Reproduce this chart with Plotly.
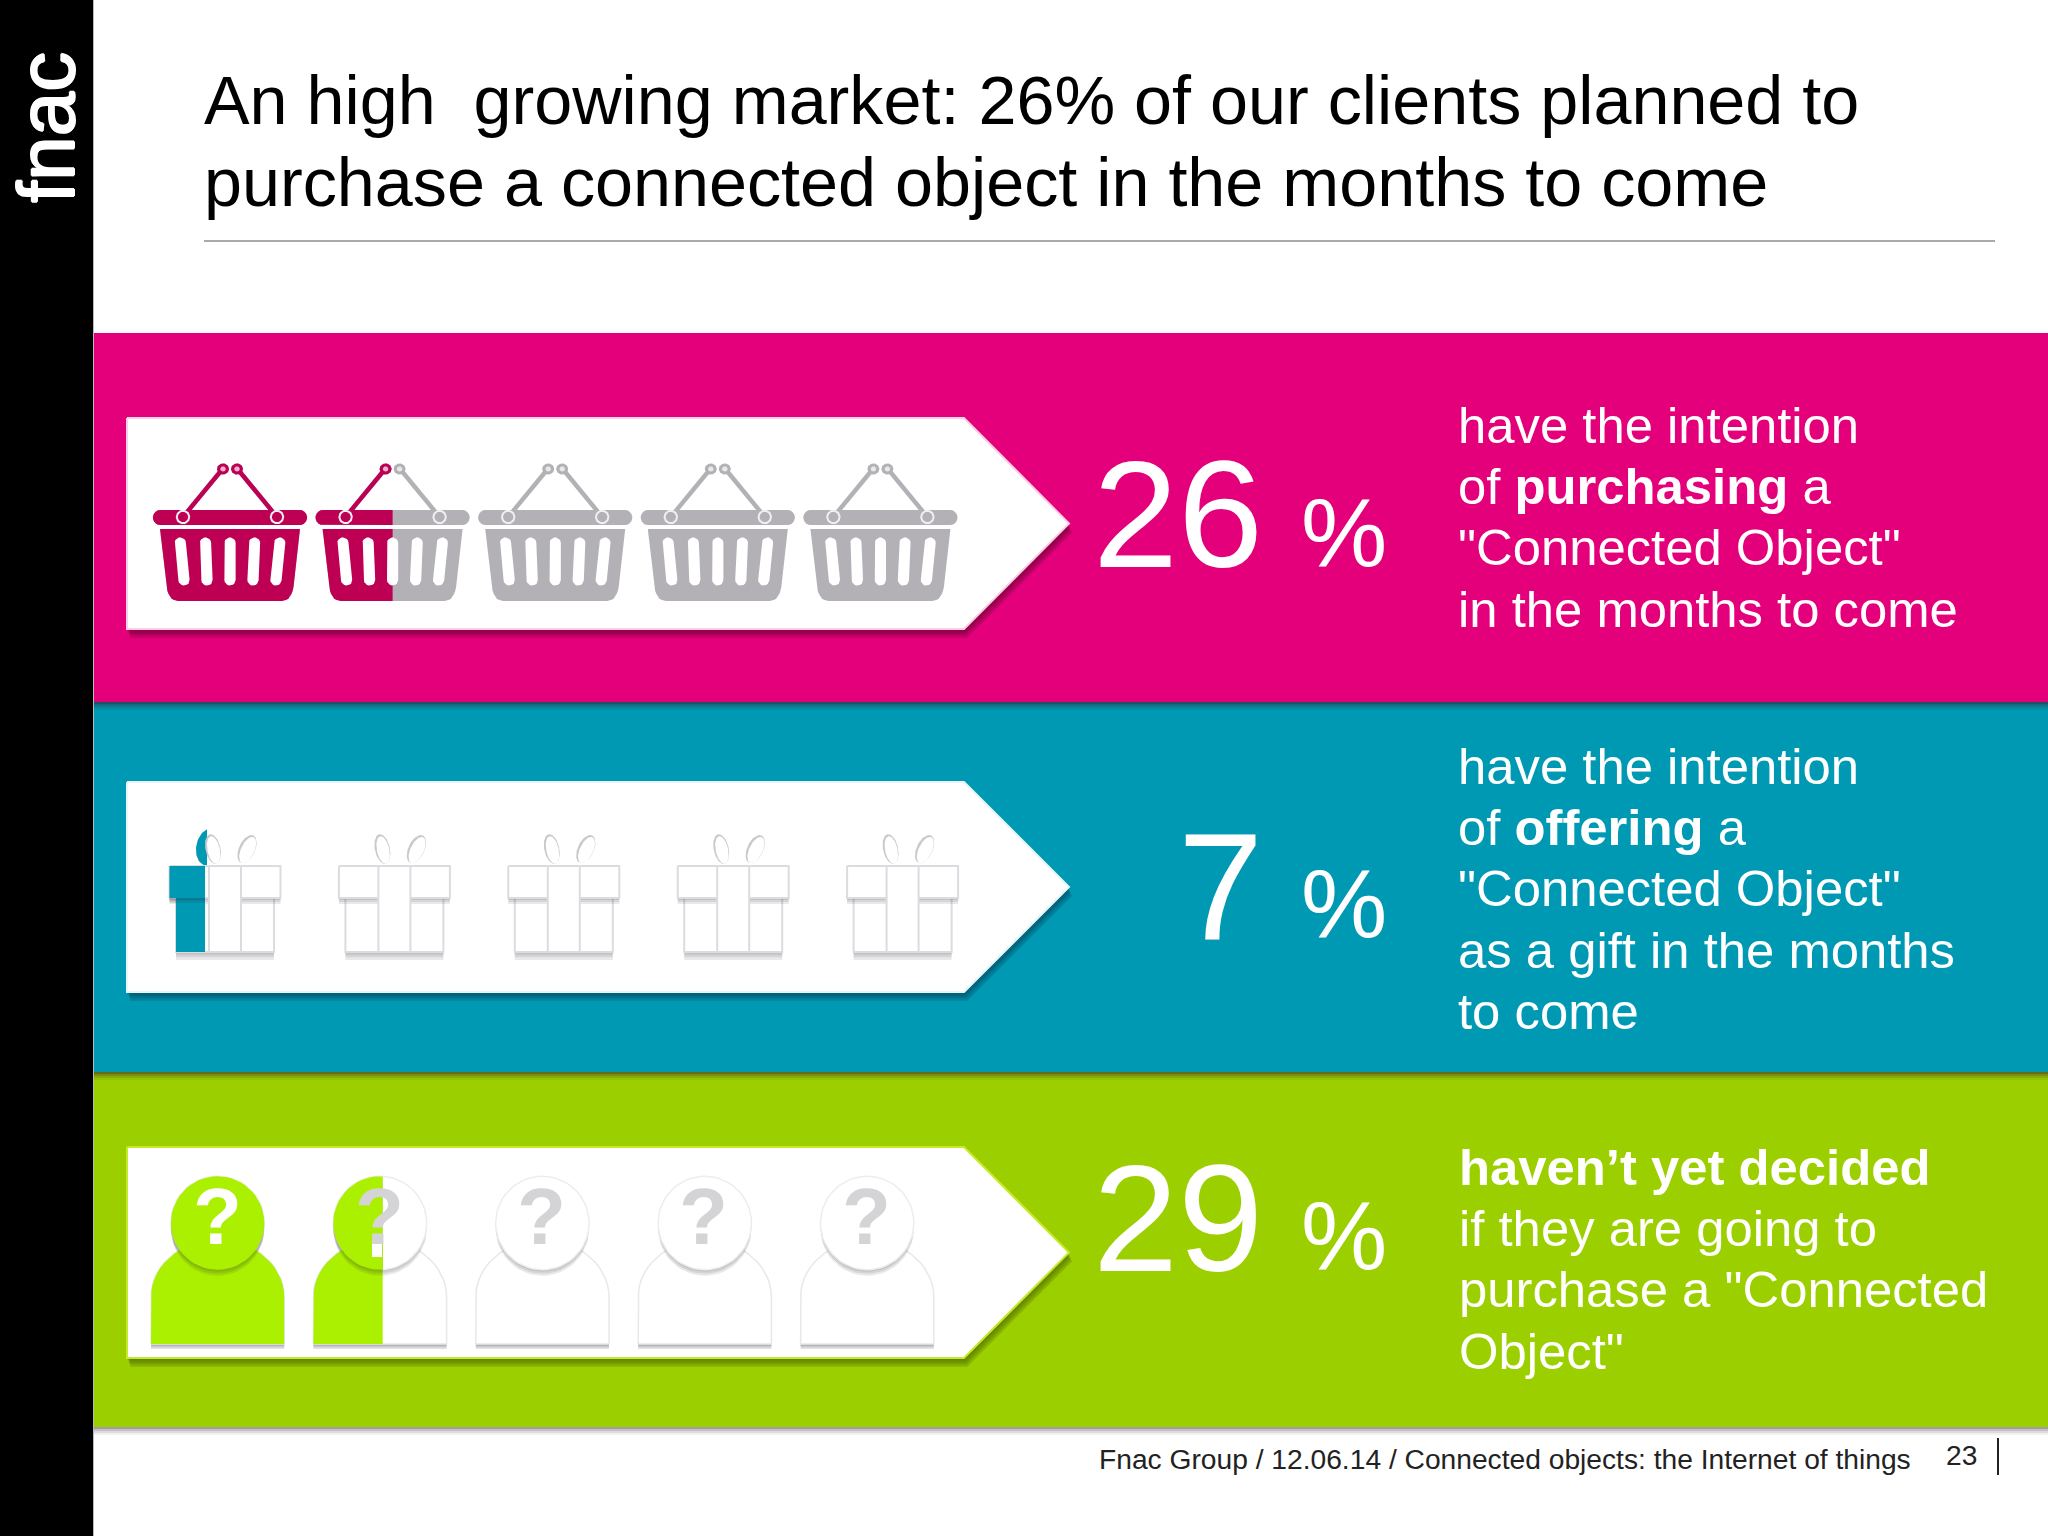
import numpy as np
import plotly.graph_objects as go

FONT = "Liberation Sans"

# what the slide says
TITLE_LINES = ["An high \u00a0growing market: 26% of our clients planned to",
               "purchase a connected object in the months to come"]
PERCENTS = ["26", "7", "29"]
ICON_FILLED = [1.5, 0.32, 1.52]  # icons coloured in each row, out of 5
TEXT_PINK = ["have the intention", "of <b>purchasing</b> a", '"Connected Object"', "in the months to come"]
TEXT_TEAL = ["have the intention", "of <b>offering</b> a", '"Connected Object"', "as a gift in the months", "to come"]
TEXT_GREEN = ["<b>haven\u2019t yet decided</b>", "if they are going to", 'purchase a "Connected', 'Object"']
FOOTER = "Fnac Group / 12.06.14 / Connected objects: the Internet of things"
PAGE_NUMBER = "23"

PINK, TEAL, GREEN = "#E4007A", "#0099B4", "#9CCF00"
BASKET_ON, BASKET_OFF = "#BE0054", "#B3B1B5"
PERSON_ON = "#AAF000"
EDGE = "#DCDCE0"

fig = go.Figure()


def clip_left(xs, ys, limit):
    # keep the part of a polygon left of a vertical line
    out_x, out_y = [], []
    n = len(xs)
    for i in range(n):
        x0, y0, x1, y1 = xs[i], ys[i], xs[(i + 1) % n], ys[(i + 1) % n]
        if x0 <= limit:
            out_x.append(x0)
            out_y.append(y0)
        if (x0 <= limit) != (x1 <= limit):
            t = (limit - x0) / (x1 - x0)
            out_x.append(limit)
            out_y.append(y0 + t * (y1 - y0))
    return out_x, out_y


def poly(xs, ys, fill, line=None, lw=0, limit=None):
    xs, ys = list(xs), list(ys)
    if limit is not None:
        xs, ys = clip_left(xs, ys, limit)
    if len(xs) < 3:
        return
    fig.add_trace(go.Scatter(x=xs + xs[:1], y=ys + ys[:1], mode="lines", fill="toself", fillcolor=fill,
                             line=dict(color=line or "rgba(0,0,0,0)", width=lw), hoverinfo="skip",
                             showlegend=False))


def rect(x0, y0, x1, y1):
    return [x0, x1, x1, x0], [y0, y0, y1, y1]


def ellipse(cx, cy, rx, ry, tilt=0.0):
    t = np.linspace(0, 2 * np.pi, 60, endpoint=False)
    a = np.radians(tilt)
    px, py = rx * np.cos(t), ry * np.sin(t)
    return cx + px * np.cos(a) - py * np.sin(a), cy + px * np.sin(a) + py * np.cos(a)


def capsule(x0, y0, x1, y1, r):
    a = np.arctan2(y1 - y0, x1 - x0)
    t = np.linspace(-np.pi / 2, np.pi / 2, 10)
    xs = np.r_[x1 + r * np.cos(a + t), x0 + r * np.cos(a + t + np.pi)]
    ys = np.r_[y1 + r * np.sin(a + t), y0 + r * np.sin(a + t + np.pi)]
    return xs, ys


def soft_shadow(xs, ys, dy, alpha=0.07, steps=3):
    for k in range(1, steps + 1):
        poly(np.asarray(xs), np.asarray(ys) + dy * k / steps, f"rgba(40,40,50,{alpha})")


def fill_limit(row, i, left, width):
    return left + np.clip(ICON_FILLED[row] - i, 0, 1) * width


def basket(cx, limit):
    parts = [capsule(cx - 47, 517, cx - 7.5, 469, 2.2), capsule(cx + 47, 517, cx + 7.5, 469, 2.2),
             ellipse(cx - 7, 469, 6, 5.5), ellipse(cx + 7, 469, 6, 5.5),
             capsule(cx - 69.5, 517.5, cx + 69.5, 517.5, 7.6)]
    # body outline with rounded bottom corners
    t = np.linspace(0, 1, 8)
    cl_x = (1 - t) ** 2 * (-63.5) + 2 * t * (1 - t) * (-61) + t ** 2 * (-52)
    cl_y = (1 - t) ** 2 * 587 + 2 * t * (1 - t) * 601 + t ** 2 * 601
    body_x = np.r_[-70, cl_x, -cl_x[::-1], 70] + cx
    body_y = np.r_[529, cl_y, cl_y[::-1], 529]
    parts.append((body_x, body_y))
    for xs, ys in parts:
        poly(xs, ys, BASKET_OFF)
    if limit > cx - 80:
        for xs, ys in parts:
            poly(xs, ys, BASKET_ON, limit=limit)
    for top, bottom in zip([-49.7, -24.5, 0, 24.5, 49.7], [-46, -23, 0, 23, 46]):
        poly(*capsule(cx + top, 543, cx + bottom, 580, 5.6), "white")
    for dx in (-47, 47):
        poly(*ellipse(cx + dx, 517, 6.2, 6.2), "rgba(0,0,0,0)", "#EFEFF1", 2)
    for dx in (-7, 7):
        poly(*ellipse(cx + dx, 469, 2.8, 2.6), "rgba(255,255,255,0.7)")


def gift(cx, limit):
    outer = [ellipse(cx - 15.7, 847, 13, 19, 12), ellipse(cx + 25, 848, 13, 18, 25)]
    for xs, ys in outer:
        poly(xs, ys, "white")
        if limit > cx - 60:
            poly(xs, ys, TEAL, limit=limit + 2)
    for dx, rx, tilt in [(-12, 7.5, -12), (22, 8, 25)]:
        poly(*ellipse(cx + dx, 849, rx, 15, tilt), "#C9C9CE")
        poly(*ellipse(cx + dx + 0.7, 850, rx - 1.3, 14, tilt), "white")
    # shadow under the lid and under the box
    soft_shadow(*rect(cx - 49, 898, cx + 49, 952), 8, alpha=0.1)
    poly(*rect(cx - 49, 898, cx + 49, 952), "white", EDGE, 2)
    soft_shadow(*rect(cx - 55.5, 866, cx + 55.5, 898), 6, alpha=0.1)
    poly(*rect(cx - 55.5, 866, cx + 55.5, 898), "white", EDGE, 2)
    poly(*rect(cx - 16, 866, cx + 16, 952), "white", EDGE, 2)
    if limit > cx - 60:
        poly(*rect(cx - 49, 898, cx + 49, 952), TEAL, limit=limit)
        soft_shadow(*clip_left(*rect(cx - 55.5, 866, cx + 55.5, 898), limit), 5, alpha=0.1)
        poly(*rect(cx - 55.5, 866, cx + 55.5, 898), TEAL, limit=limit)


def person(cx, limit):
    t = np.linspace(np.pi, 2 * np.pi, 30)
    body_x = np.r_[cx - 66.6, cx + 66.6 * np.cos(t), cx + 66.6]
    body_y = np.r_[1344, 1297 + 57 * np.sin(t), 1344]
    soft_shadow(body_x, body_y, 5, alpha=0.14)
    poly(body_x, body_y, "white", "#E8E8EA", 1.5)
    head_x, head_y = ellipse(cx, 1223, 46.7, 46.7)
    soft_shadow(head_x, head_y, 6, alpha=0.1)
    poly(head_x, head_y, "white", "#EDEDEF", 1.5)
    if limit > cx - 70:
        poly(body_x, body_y, PERSON_ON, limit=limit)
        soft_shadow(*clip_left(head_x, head_y, limit), 6, alpha=0.1)
        poly(head_x, head_y, PERSON_ON, limit=limit)


def panel(top, bottom, edge, shadow):
    mid = (top + bottom) / 2
    xs, ys = np.array([127, 964, 1069, 964, 127]), np.array([top, top, mid, bottom, bottom])
    for k in (4, 3, 2, 1):
        poly(xs + k * 0.8, ys + k * 2.2, shadow)
    poly(xs, ys, "white", edge, 2)


def label(x, y, text, size, color="white", anchor="left", shadow=None, **extra):
    font = dict(family=FONT, size=size, color=color)
    if shadow:
        font["shadow"] = shadow
    fig.add_annotation(x=x, y=y, text=text, xref="x", yref="y", xanchor=anchor, yanchor="middle", showarrow=False,
                       font=font, **extra)


# page furniture
for x0, y0, x1, y1, colour in [(0, 0, 93, 1536, "black"), (93, 333, 2048, 702, PINK), (93, 702, 2048, 1072, TEAL),
                               (93, 1072, 2048, 1427, GREEN)]:
    fig.add_shape(type="rect", x0=x0, y0=y0, x1=x1, y1=y1, fillcolor=colour, line_width=0, layer="below")
# soft shadows along the band edges
for k, alpha in enumerate([0.3, 0.2, 0.13, 0.08]):
    for y in (702, 1072):
        fig.add_shape(type="rect", x0=93, y0=y, x1=2048, y1=y + 2 * (k + 1), fillcolor=f"rgba(60,30,40,{alpha})",
                      line_width=0, layer="below")
    fig.add_shape(type="rect", x0=93, y0=1427, x1=2048, y1=1427 + 2 * (k + 1), fillcolor=f"rgba(90,80,90,{alpha})",
                  line_width=0, layer="below")
fig.add_shape(type="line", x0=93.5, y0=0, x1=93.5, y1=1536, line=dict(color="#BBBBBB", width=1))
fig.add_shape(type="line", x0=204, y0=241, x1=1995, y1=241, line=dict(color="#8C8C8C", width=1.5))
fig.add_shape(type="line", x0=1998, y0=1438, x1=1998, y1=1475, line=dict(color="#222222", width=2))

panel(418, 629, "#FBD0E6", "rgba(120,0,60,0.3)")
panel(782, 992, "#E8F6F9", "rgba(0,70,90,0.25)")
panel(1147, 1358, "#C6EA2A", "rgba(70,100,0,0.25)")

for i in range(5):
    cx = 230 + 162.6 * i
    basket(cx, fill_limit(0, i, cx - 77, 154))
for i in range(5):
    cx = 225 + 169.4 * i
    gift(cx, fill_limit(1, i, cx - 55.5, 111))
for i in range(5):
    cx = 217.6 + 162.4 * i
    person(cx, fill_limit(2, i, cx - 66.6, 133.2))
    full = ICON_FILLED[2] - i >= 1
    label(cx if full else cx - 1, 1216, "<b>?</b>", 80, "white" if full else "#D4D4D6", "center")
# dot of the coloured question mark shows through on the half-filled head
poly(*rect(372, 1240, 382, 1257), "white")

for line, y in zip(TITLE_LINES, [100, 182]):
    label(201.5, y, line, 68.3, "black")
label(46, 128, "fnac", 80, anchor="center", textangle=-90,
      shadow="1px 0 0 white, -1px 0 0 white, 0 1px 0 white, 0 -1px 0 white")

for pct, y_num, y_sign in zip(PERCENTS, [513, 885, 1217], [532, 903, 1235]):
    label(1265, y_num, pct, 153, anchor="right")
    label(1344, y_sign, "%", 97, anchor="center")

for lines, x, ys in [(TEXT_PINK, 1455.5, [425, 486, 547, 609]), (TEXT_TEAL, 1455.5, [766, 827, 888, 950, 1011]),
                     (TEXT_GREEN, 1456.5, [1167, 1228, 1289, 1351])]:
    for line, y in zip(lines, ys):
        label(x, y, line, 50.8, "white")

label(1097, 1459, FOOTER, 28.2, "#222222")
label(1944, 1455, PAGE_NUMBER, 28.2, "#222222", "left")

fig.update_xaxes(range=[0, 2048], visible=False, fixedrange=True)
fig.update_yaxes(range=[1536, 0], visible=False, fixedrange=True)
fig.update_layout(width=2048, height=1536, margin=dict(l=0, r=0, t=0, b=0), plot_bgcolor="white",
                  paper_bgcolor="white", showlegend=False)

fig.write_html("out.html", config={"displayModeBar": False}, post_script="document.body.style.margin='0';document.body.style.overflow='hidden';")
